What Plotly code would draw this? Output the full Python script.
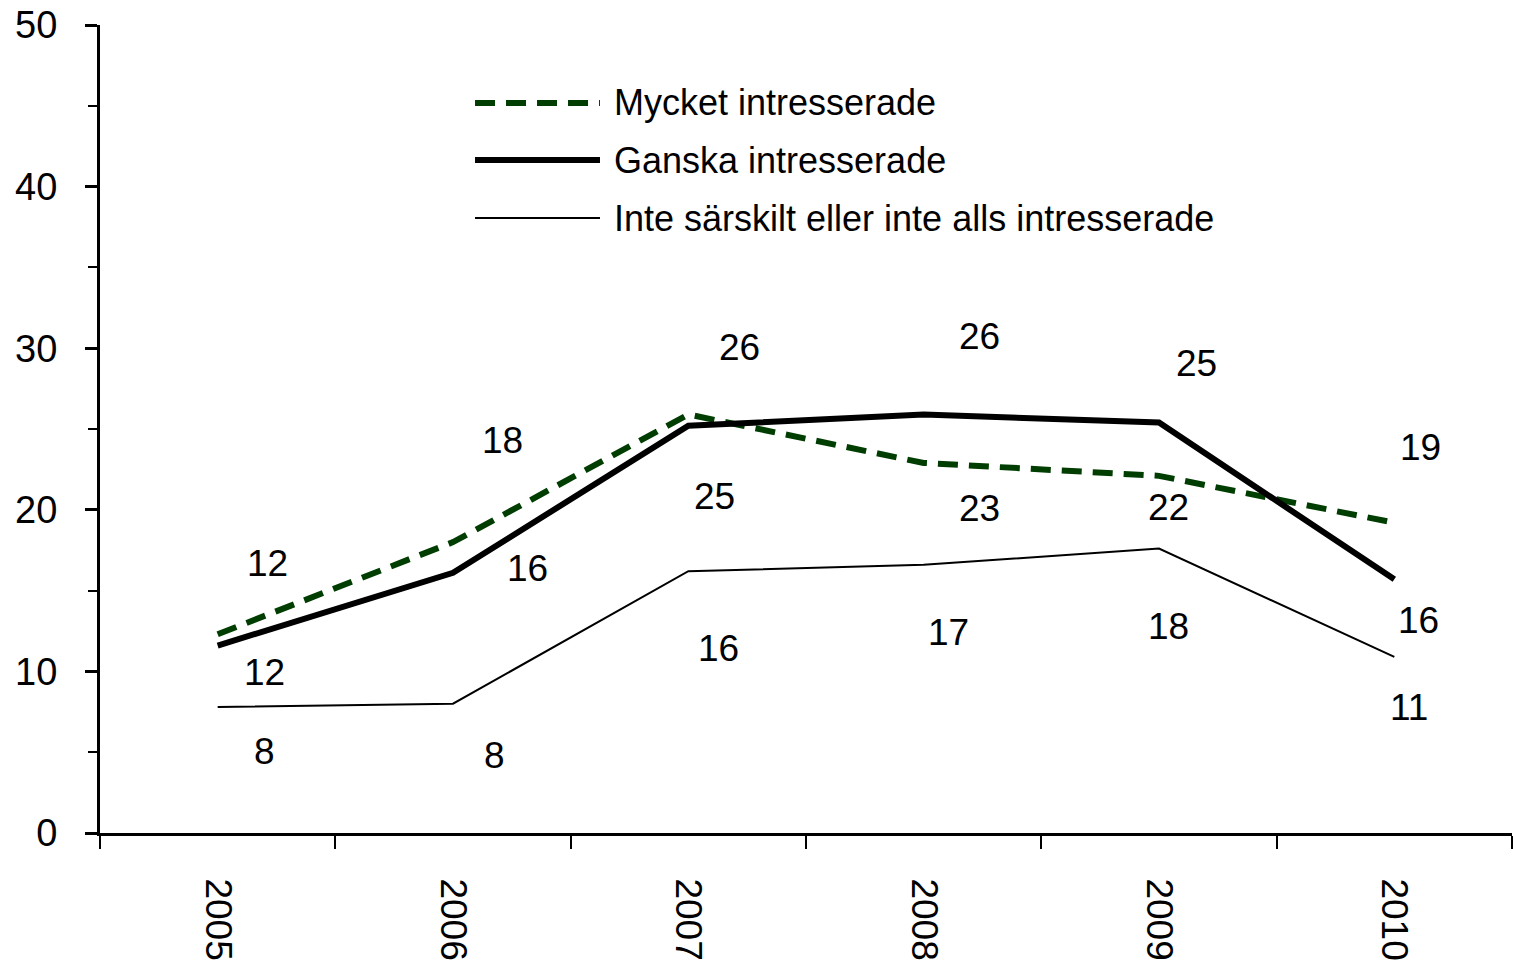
import plotly.graph_objects as go

years = ["2005", "2006", "2007", "2008", "2009", "2010"]
mycket = [12.3, 18.0, 25.9, 22.9, 22.1, 19.2]
ganska = [11.6, 16.1, 25.2, 25.9, 25.4, 15.7]
inte = [7.8, 8.0, 16.2, 16.6, 17.6, 10.9]
names = ["Mycket intresserade", "Ganska intresserade",
         "Inte särskilt eller inte alls intresserade"]

# label offsets in pixels (dx right, dy down) relative to each point
off_mycket = [(50, -71), (49, -102), (51, -67), (56, 46), (9, 32), (26, -75)]
off_ganska = [(47, 27), (74, -4), (26, 71), (56, -78), (37, -59), (24, 41)]
off_inte = [(47, 45), (41, 52), (30, 77), (25, 68), (9, 78), (15, 51)]

FONT = "Liberation Sans, Arial, sans-serif"
GREEN = "#003d00"
styles = [
    dict(color=GREEN, width=6, dash="20px,11px"),
    dict(color="black", width=6),
    dict(color="black", width=2),
]

fig = go.Figure()
for vals, name, st in zip([mycket, ganska, inte], names, styles):
    _ = fig.add_trace(go.Scatter(x=years, y=vals, mode="lines", name=name,
                                 line=st, showlegend=False))

for vals, offs in zip([mycket, ganska, inte], [off_mycket, off_ganska, off_inte]):
    for i, (v, (dx, dy)) in enumerate(zip(vals, offs)):
        fig.add_annotation(x=i, y=v, xref="x", yref="y",
                           text=str(int(v + 0.5)), showarrow=False,
                           xshift=dx, yshift=-dy,
                           font=dict(family=FONT, size=37, color="black"))

# custom legend with long sample lines
rows = [0.9035, 0.8329, 0.7611]
for st, name, yy in zip(styles, names, rows):
    fig.add_shape(type="line", xref="paper", yref="paper",
                  x0=0.2656, x1=0.3541, y0=yy, y1=yy, line=st)
    fig.add_annotation(xref="paper", yref="paper", x=0.3626, y=yy,
                       xanchor="left", yanchor="middle", text=name,
                       showarrow=False,
                       font=dict(family=FONT, size=36, color="black"))

_ = fig.update_xaxes(
        type="category", range=[-0.5, 5.5], tickson="boundaries",
        ticks="outside", ticklen=13, tickwidth=2, tickcolor="black",
        showline=True, linecolor="black", linewidth=3,
        tickangle=90, ticklabelstandoff=35,
        tickfont=dict(family=FONT, size=37, color="black"),
        showgrid=False, zeroline=False)
_ = fig.update_yaxes(
        range=[0, 50], dtick=10, ticks="outside", ticklen=12, tickwidth=3,
        tickcolor="black", showline=True, linecolor="black", linewidth=3,
        minor=dict(dtick=5, ticks="outside", ticklen=9, tickwidth=2,
                   tickcolor="black"),
        ticklabelstandoff=20, ticklabeloverflow="allow",
        tickfont=dict(family=FONT, size=38, color="black"),
        showgrid=False, zeroline=False)
_ = fig.update_layout(
        width=1513, height=966,
        margin=dict(l=100, r=1, t=25, b=133),
        plot_bgcolor="white", paper_bgcolor="white",
        font=dict(family=FONT))
fig.write_html("out.html", config={"displayModeBar": False},
               post_script="document.body.style.margin='0';"
                           "document.body.style.overflow='hidden';")
